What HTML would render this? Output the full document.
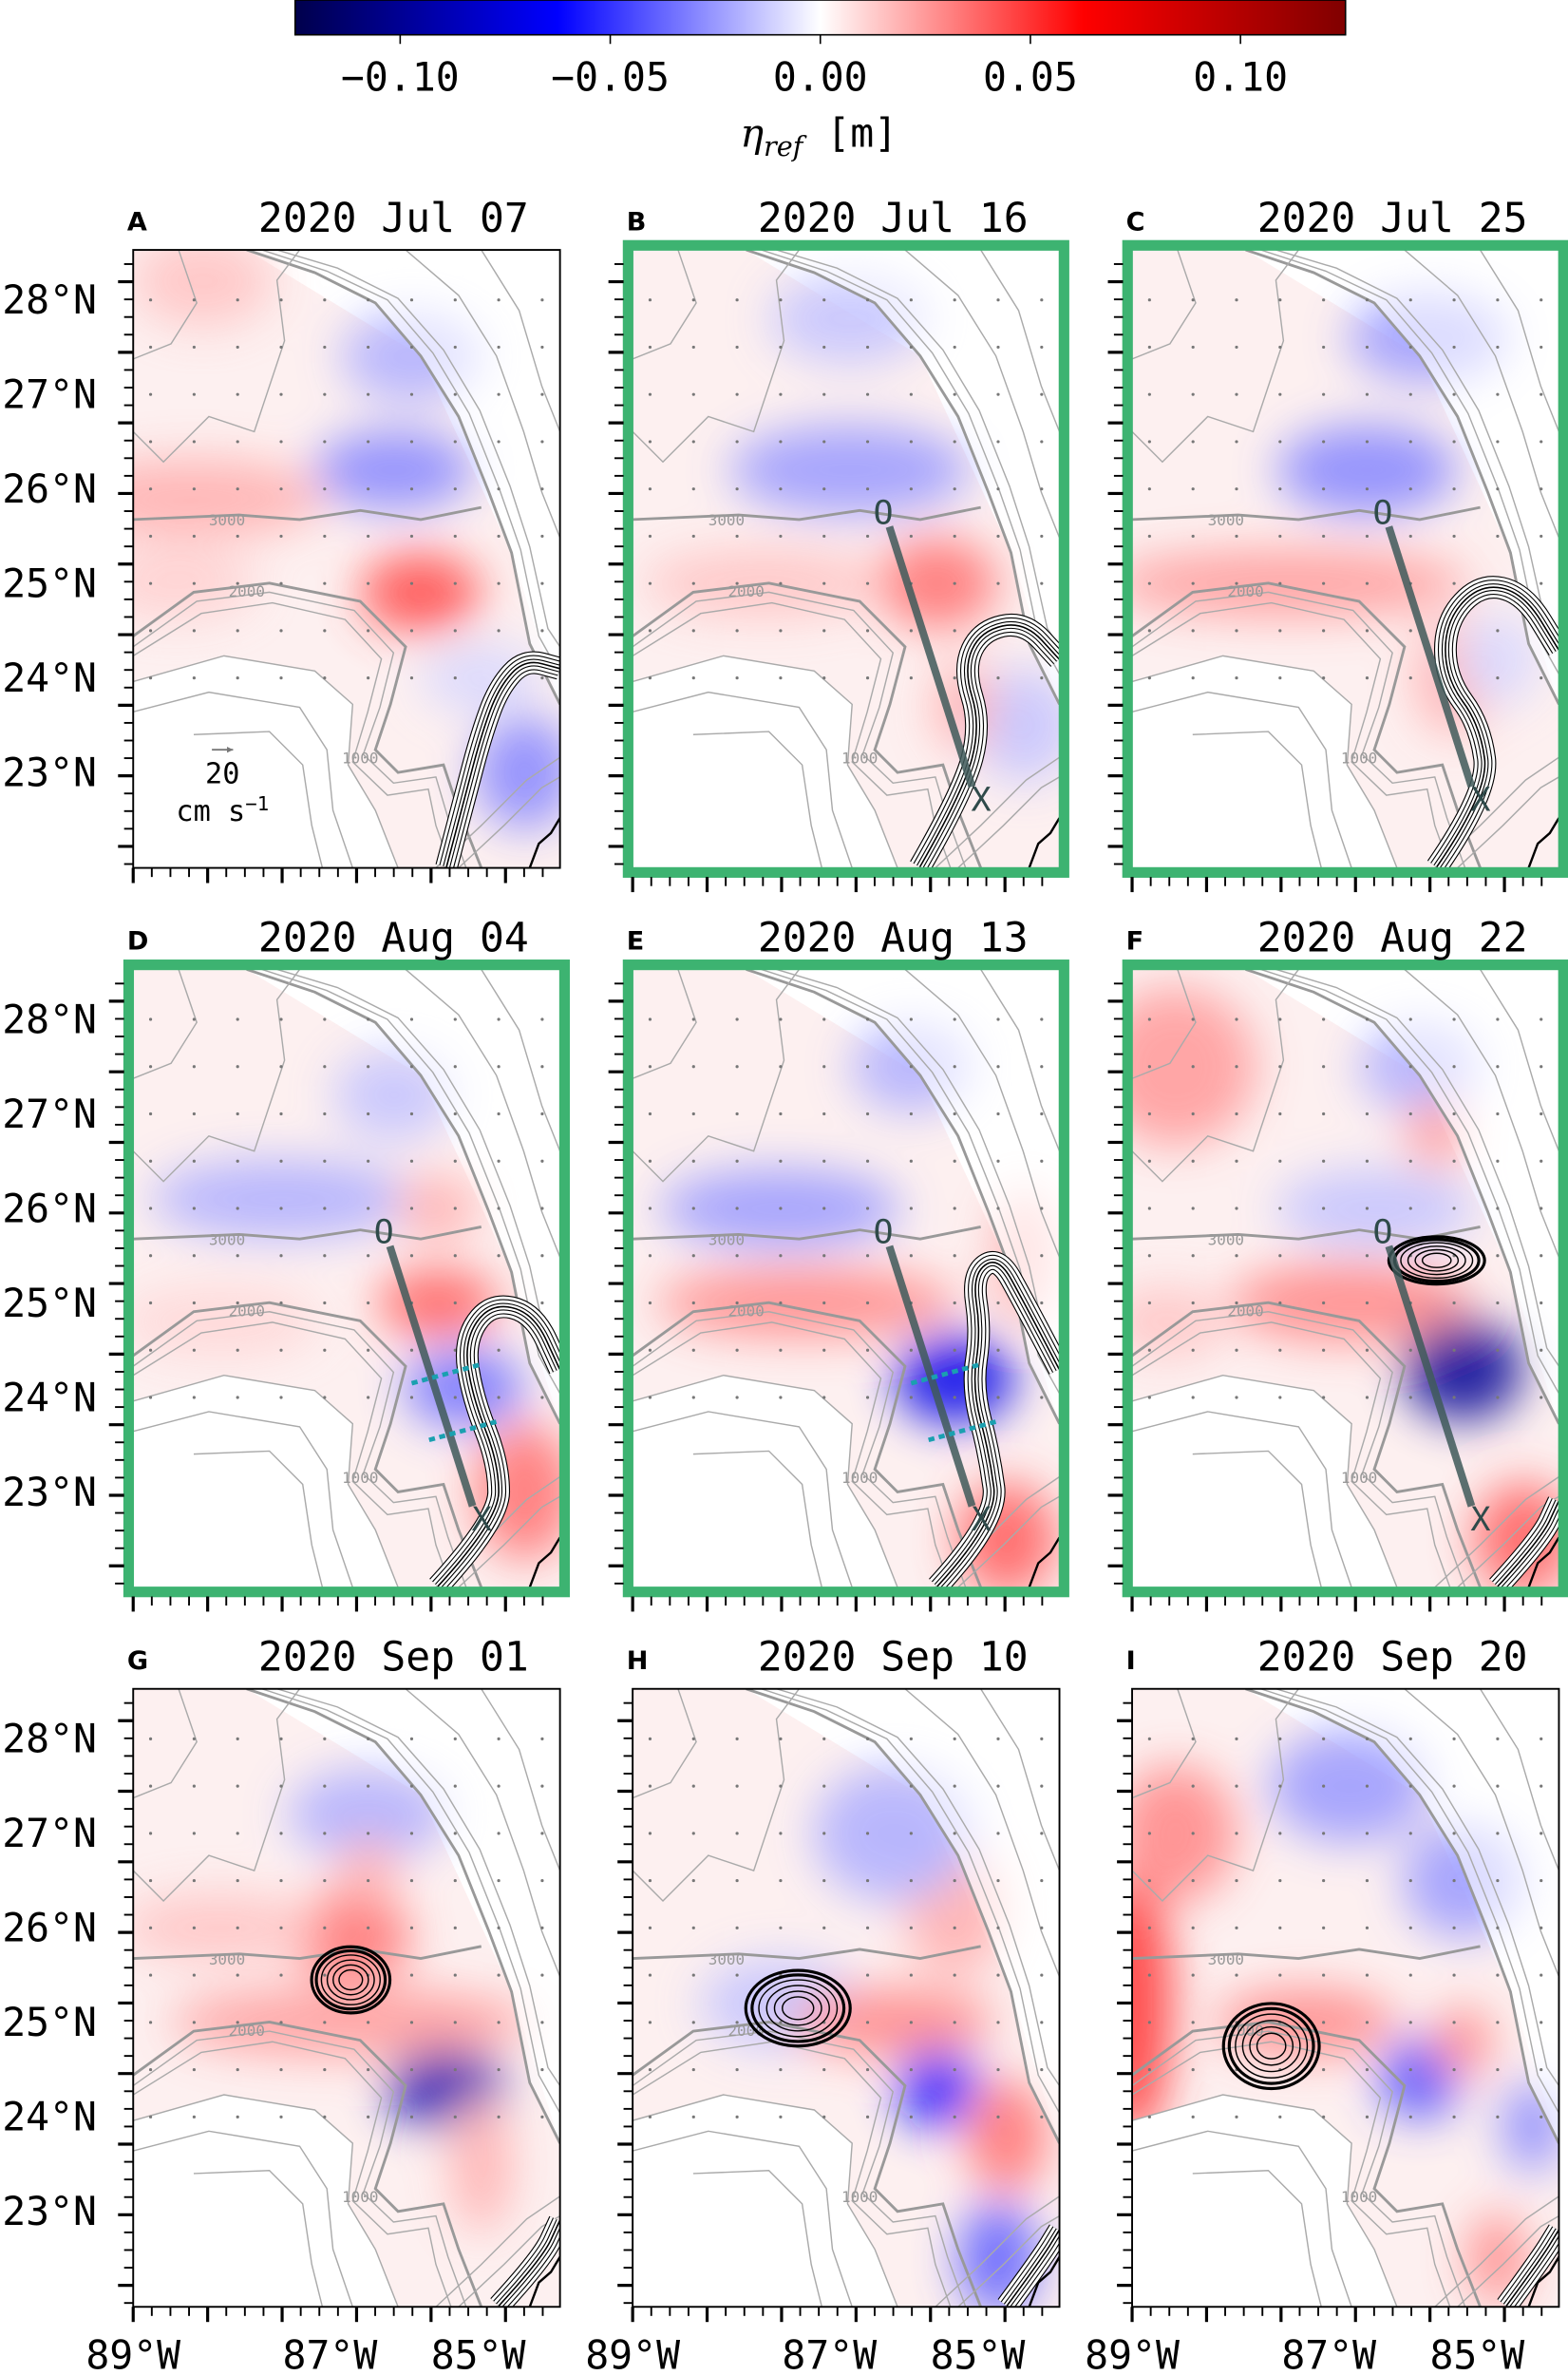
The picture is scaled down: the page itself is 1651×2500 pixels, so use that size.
<!DOCTYPE html>
<html><head><meta charset="utf-8"><style>
html,body{margin:0;padding:0;background:#fff}
svg{display:block}
text{font-family:"DejaVu Sans Mono","Liberation Mono",monospace;fill:#000}
</style></head><body>
<svg id="fig" width="1651" height="2500" viewBox="0 0 1036 1568" preserveAspectRatio="none" xmlns="http://www.w3.org/2000/svg">
<defs>
<linearGradient id="cbgrad" x1="0" x2="1" y1="0" y2="0">
<stop offset="0" stop-color="#00004c"/><stop offset="0.25" stop-color="#0000ff"/><stop offset="0.5" stop-color="#ffffff"/><stop offset="0.75" stop-color="#ff0000"/><stop offset="1" stop-color="#800000"/>
</linearGradient>
<filter id="blur" x="-50%" y="-50%" width="200%" height="200%"><feGaussianBlur stdDeviation="15"/></filter>
</defs>
<g>
<rect x="195" y="0" width="694" height="23" fill="url(#cbgrad)" stroke="#000" stroke-width="1"/>
<g id="cbticks"></g>
<text x="541" y="97" font-size="26" text-anchor="middle"><tspan font-family="DejaVu Serif, serif" font-style="italic">η</tspan><tspan font-family="DejaVu Serif, serif" font-style="italic" font-size="18" dy="6">ref</tspan><tspan dy="-6"> [m]</tspan></text>
</g>
<g id="panels"></g>
</svg>
<script>
const cbTicks=[-0.10,-0.05,0.00,0.05,0.10];
const cbLabels=["−0.10","−0.05","0.00","0.05","0.10"];
const panelLetters=["A","B","C","D","E","F","G","H","I"];
const panelDates=["2020 Jul 07","2020 Jul 16","2020 Jul 25","2020 Aug 04","2020 Aug 13","2020 Aug 22","2020 Sep 01","2020 Sep 10","2020 Sep 20"];
const highlighted=[false,true,true,true,true,true,false,false,false];
const latTicks=[28,27,26,25,24,23];
const lonTickLabels=["89°W","87°W","85°W"];
// anomaly blobs per panel: [lon, lat, eta(m), radius lon deg, radius lat deg]
const blobsA=[[88.3,25.9,0.02,1.3,0.35],[86.0,26.2,-0.03,0.8,0.35],[85.8,27.4,-0.02,0.7,0.4],[85.7,24.9,0.045,0.6,0.35],[84.5,23.0,-0.03,0.5,0.5],[88.5,25.0,0.012,0.8,0.3],[88.2,28.2,0.015,0.7,0.4],[85.0,24.0,-0.01,0.6,0.3]];
const blobsB=[[86.5,26.2,-0.025,1.2,0.4],[86.5,27.8,-0.015,0.8,0.4],[85.5,25.0,0.035,0.6,0.4],[87.5,25.0,0.015,1.2,0.3],[84.5,23.5,-0.015,0.5,0.5],[85.2,23.7,0.02,0.3,0.4]];
const blobsC=[[86.3,26.2,-0.03,0.9,0.4],[85.6,27.6,-0.025,0.8,0.4],[87.2,25.0,0.025,1.8,0.3],[85.3,24.0,0.02,0.4,0.5],[84.8,24.2,-0.01,0.4,0.4]];
const blobsD=[[87.3,26.1,-0.02,1.3,0.35],[86.0,27.2,-0.015,0.6,0.4],[85.5,25.0,0.04,0.6,0.3],[85.5,26.0,0.02,0.4,0.3],[85.2,24.1,-0.035,0.6,0.35],[84.5,23.0,0.035,0.5,0.6],[88.0,24.8,0.01,1.0,0.3]];
const blobsE=[[87.3,26.0,-0.025,1.2,0.35],[85.8,27.5,-0.02,0.6,0.4],[87.0,25.0,0.03,1.5,0.3],[85.3,24.2,-0.07,0.6,0.4],[84.7,22.5,0.04,0.5,0.5],[84.5,25.5,0.02,0.3,0.6]];
const blobsF=[[88.5,27.5,0.025,0.8,0.7],[86.5,25.0,0.03,1.2,0.35],[85.2,24.3,-0.1,0.6,0.45],[86.2,26.0,-0.015,1.0,0.35],[85.7,27.5,-0.02,0.6,0.4],[84.5,22.5,0.04,0.5,0.5],[85.5,26.8,0.025,0.3,0.3],[88.6,24.8,0.015,0.6,0.3]];
const blobsG=[[86.5,25.9,0.035,0.6,0.4],[86.5,25.0,0.025,1.8,0.3],[85.4,24.3,-0.09,0.6,0.35],[86.3,27.2,-0.02,0.8,0.4],[86.3,26.6,0.02,0.3,0.3],[85.0,23.5,0.02,0.3,0.6],[88.0,26.0,0.015,1.0,0.3]];
const blobsH=[[87.3,25.2,-0.015,0.8,0.4],[86.0,25.0,0.03,1.0,0.3],[85.3,26.2,0.02,0.5,0.6],[85.5,24.3,-0.06,0.4,0.35],[84.7,23.8,0.035,0.4,0.5],[84.8,22.5,-0.04,0.4,0.5],[86.0,27.0,-0.02,0.8,0.6]];
const blobsI=[[89.0,25.2,0.05,0.4,1.2],[88.5,27.0,0.03,0.6,0.6],[86.5,27.5,-0.025,0.8,0.5],[85.2,26.5,-0.025,0.6,0.5],[87.0,25.0,0.03,0.9,0.3],[85.7,24.4,-0.045,0.4,0.35],[85.2,24.8,0.03,0.3,0.3],[84.4,23.9,-0.03,0.3,0.4],[84.8,22.5,0.03,0.3,0.4]];
const panelBlobs=[blobsA,blobsB,blobsC,blobsD,blobsE,blobsF,blobsG,blobsH,blobsI];
// loop current / eddy contour centre lines (lon, lat)
const currentA=[[85.4,22.0],[85.2,22.7],[85.0,23.4],[84.8,23.9],[84.5,24.2],[84.1,24.1]];
const currentB=[[85.7,22.0],[85.2,22.8],[85.0,23.5],[85.2,24.1],[85.0,24.5],[84.5,24.6],[84.1,24.2]];
const currentC=[[85.5,22.0],[84.9,22.8],[85.0,23.5],[85.4,24.0],[85.4,24.6],[85.0,25.0],[84.5,24.9],[84.1,24.3]];
const currentD=[[85.5,22.0],[84.8,22.7],[84.8,23.3],[85.1,24.0],[85.2,24.6],[84.9,25.0],[84.4,24.9],[84.1,24.3]];
const currentE=[[85.5,22.0],[84.8,22.7],[84.9,23.4],[85.1,24.1],[85.0,24.7],[85.1,25.3],[84.8,25.5],[84.5,25.0],[84.1,24.3]];
const currentF=[[84.8,22.0],[84.3,22.5],[84.1,22.9]];
const currentG=[[84.8,22.0],[84.3,22.5],[84.1,22.9]];
const currentH=[[84.7,22.0],[84.3,22.5],[84.1,22.8]];
const currentI=[[84.7,22.0],[84.3,22.5],[84.1,22.8]];
const panelCurrents=[currentA,currentB,currentC,currentD,currentE,currentF,currentG,currentH,currentI];
// eddy centres [lon, lat, rx deg, ry deg] or null
const panelEddies=[null,null,null,null,null,[85.5,25.45,0.55,0.25],[86.5,25.45,0.45,0.35],[87.1,25.15,0.6,0.4],[87.4,24.75,0.55,0.45]];
const sectionO=[86.05,25.6];
const sectionX=[85.1,22.85];
const showSection=[false,true,true,true,true,true,false,false,false];

const NS="http://www.w3.org/2000/svg";
const colX0=[88,418,748], rowY0=[165,640,1115], PW=282, PH=408;
function mk(tag,attrs,parent){const e=document.createElementNS(NS,tag);for(const k in attrs)e.setAttribute(k,attrs[k]);if(parent)parent.appendChild(e);return e;}
function cbX(v){return 195+(v+0.125)/0.25*694;}
function seismic(v){let t=Math.max(0,Math.min(1,(v+0.125)/0.25));const s=[[0,0,0.3],[0,0,1],[1,1,1],[1,0,0],[0.5,0,0]];const i=Math.min(3,Math.floor(t*4));const f=t*4-i;const c=s[i].map((a,k)=>Math.round(255*(a+(s[i+1][k]-a)*f)));return `rgb(${c[0]},${c[1]},${c[2]})`;}
function smooth(pts){let d=`M${pts[0][0]},${pts[0][1]}`;for(let i=1;i<pts.length-1;i++){const mx=(pts[i][0]+pts[i+1][0])/2,my=(pts[i][1]+pts[i+1][1])/2;d+=` Q${pts[i][0]},${pts[i][1]} ${mx},${my}`;}const l=pts[pts.length-1];d+=` L${l[0]},${l[1]}`;return d;}

const cbt=document.getElementById('cbticks');
cbTicks.forEach((v,i)=>{
  const l=mk('line',{x1:cbX(v),x2:cbX(v),y1:23,y2:29,stroke:'#000','stroke-width':1},cbt);
  
  
  const t=mk('text',{x:cbX(v),y:60,'font-size':26,'text-anchor':'middle'},cbt);
  t.textContent=cbLabels[i];
  
  
});

const bathy=[
 "M75,0 L120,15 L160,35 L190,70 L215,110 L235,160 L250,200 L262,260 L282,300",
 "M85,0 L128,14 L168,33 L198,68 L222,108 L242,158 L256,198 L268,255 L282,280",
 "M95,0 L135,12 L175,32 L205,66 L229,106 L249,156 L262,196 L274,250 L282,262",
 "M180,0 L215,30 L240,70 L258,120 L270,160 L282,190",
 "M230,0 L255,40 L270,90 L282,120",
 "M0,255 L40,226 L90,220 L150,232 L180,262 L170,300 L160,330 L175,345 L205,340 L215,370 L230,408",
 "M0,262 L42,232 L90,226 L146,238 L172,266 L163,302 L152,333 L172,352 L200,348 L208,375 L220,408",
 "M0,268 L45,240 L92,233 L140,244 L164,270 L155,305 L145,338 L168,360 L195,356 L200,380 L210,408",
 "M0,285 L60,268 L120,278 L145,300 L142,340 L160,370 L175,408",
 "M0,305 L50,292 L110,302 L128,330 L132,370 L145,408",
 "M40,320 L90,318 L112,340 L118,380 L125,408",
 "M0,178 L70,175 L110,178 L150,172 L190,178 L230,170",
 "M30,0 L42,35 L25,62 L0,72",
 "M0,120 L20,140 L50,110 L80,120 L100,60 L95,20 L110,0",
 "M200,408 L230,380 L260,350 L282,335",
 "M215,408 L245,380 L270,355 L282,348"
];

const panelsG=document.getElementById('panels');
for(let p=0;p<9;p++){
  const x0=colX0[p%3], y0=rowY0[Math.floor(p/3)];
  const lx=lon=>x0+(89-lon)*57.5;
  const ly=lat=>y0+33+(28-lat)*62.4;
  const g=mk('g',{},panelsG);
  
  
  const cp=mk('clipPath',{id:'clip'+p},g);
  mk('rect',{x:x0,y:y0,width:PW,height:PH},cp);
  const inner=mk('g',{'clip-path':`url(#clip${p})`},g);
  mk('path',{d:`M${x0},${y0} L${x0+75},${y0} L${x0+190},${y0+70} L${x0+250},${y0+200} L${x0+282},${y0+300} L${x0+282},${y0+408} L${x0+175},${y0+408} L${x0+142},${y0+340} L${x0+120},${y0+278} L${x0},${y0+285} Z`,fill:'#fdf0f0'},inner);
  const field=mk('g',{filter:'url(#blur)',opacity:0.85},inner);
  
  
  panelBlobs[p].forEach(b=>{
    const e=mk('ellipse',{cx:lx(b[0]),cy:ly(b[1]),rx:b[3]*57.5*1.15,ry:b[4]*62.4*1.2,fill:seismic(b[2])},field);
    
    
  });
  mk('path',{d:`M${x0},${y0+285} L${x0+60},${y0+268} L${x0+120},${y0+278} L${x0+145},${y0+300} L${x0+142},${y0+340} L${x0+160},${y0+370} L${x0+175},${y0+408} L${x0},${y0+408} Z`,fill:'#fff'},inner);
  mk('path',{d:`M${x0+75},${y0} L${x0+120},${y0+15} L${x0+160},${y0+35} L${x0+190},${y0+70} L${x0+215},${y0+110} L${x0+235},${y0+160} L${x0+250},${y0+200} L${x0+262},${y0+260} L${x0+282},${y0+300} L${x0+282},${y0} Z`,fill:'#fff',opacity:0.6},inner);
  const bg=mk('g',{transform:`translate(${x0},${y0})`,fill:'none',stroke:'#999','stroke-width':1},inner);
  
  
  bathy.forEach((d,i)=>mk('path',{d:d,'stroke-width':(i===0||i===5||i===11)?1.8:0.9,stroke:(i===0||i===5||i===11)?'#999':'#aaa'},bg));
  [["3000",62,178],["2000",75,225],["1000",150,335]].forEach(a=>{const t=mk('text',{x:x0+a[1],y:y0+a[2]+4,'font-size':10,'text-anchor':'middle'},inner);t.textContent=a[0];t.style.fill='#999';});
  mk('path',{d:`M${x0+262},${y0+408} L${x0+268},${y0+392} L${x0+276},${y0+385} L${x0+282},${y0+375}`,fill:'none',stroke:'#000','stroke-width':1.5},inner);
  const vg=mk('g',{fill:'#777'},inner);
  
  
  for(let la=28;la>=24;la-=0.5)for(let lo=88.8;lo>=84.2;lo-=0.5){mk('circle',{cx:lx(lo),cy:ly(la),r:1},vg);}
  const cur=panelCurrents[p];
  const lcg=mk('g',{fill:'none','stroke-linejoin':'round','stroke-linecap':'butt'},inner);
  
  
  const cd=smooth(cur.map(c=>[lx(c[0]),ly(c[1])]));
  [[15,'#000'],[13.6,'#fff'],[10,'#000'],[8.6,'#fff'],[5,'#000'],[3.6,'#fff'],[1,'#000']].forEach(s=>mk('path',{d:cd,stroke:s[1],'stroke-width':s[0]},lcg));
  const ed=panelEddies[p];
  if(ed){
    const eg=mk('g',{fill:'none',stroke:'#000'},inner);
    
    
    [1,0.88,0.75,0.6,0.45,0.3].forEach((s,k)=>mk('ellipse',{cx:lx(ed[0]),cy:ly(ed[1]),rx:ed[2]*57.5*s,ry:ed[3]*62.4*s,'stroke-width':k<2?2:0.9},eg));
  }
  if(showSection[p]){
    const sg=mk('g',{},inner);
    
    
    mk('line',{x1:lx(sectionO[0]),y1:ly(sectionO[1]),x2:lx(sectionX[0]),y2:ly(sectionX[1]),stroke:'#3f5a5a','stroke-width':5,opacity:0.85},sg);
    const o=mk('text',{x:lx(sectionO[0])-4,y:ly(sectionO[1])-2,'font-size':22,'text-anchor':'middle'},sg);o.textContent='O';o.style.fill='#2f4a4a';
    const x=mk('text',{x:lx(sectionX[0])+6,y:ly(sectionX[1])+16,'font-size':22,'text-anchor':'middle'},sg);x.textContent='X';x.style.fill='#2f4a4a';
    if(p===3||p===4){
      const cyg=mk('g',{stroke:'#1aa0b0','stroke-width':3,'stroke-dasharray':'4,3'},sg);
      mk('line',{x1:lx(85.8),y1:ly(24.15),x2:lx(85.0),y2:ly(24.35)},cyg);
      mk('line',{x1:lx(85.6),y1:ly(23.55),x2:lx(84.8),y2:ly(23.75)},cyg);
    }
  }
  if(p===0){
    const qg=mk('g',{},g);
    
    
    mk('line',{x1:x0+52,y1:y0+330,x2:x0+66,y2:y0+330,stroke:'#777','stroke-width':1.2},qg);
    mk('path',{d:`M${x0+66},${y0+330} l-4,-2 l0,4 z`,fill:'#777'},qg);
    const a=mk('text',{x:x0+59,y:y0+352,'font-size':19,'text-anchor':'middle'},qg);a.textContent='20';
    const b=mk('text',{x:x0+59,y:y0+377,'font-size':19,'text-anchor':'middle'},qg);b.innerHTML='cm s<tspan dy="-7" font-size="13">−1</tspan>';
  }
  if(highlighted[p]){
    const f=mk('rect',{x:x0-3,y:y0-3,width:PW+6,height:PH+6,fill:'none',stroke:'#3db371','stroke-width':7},g);
    
    
  } else {
    mk('rect',{x:x0,y:y0,width:PW,height:PH,fill:'none',stroke:'#000','stroke-width':1.2},g);
  }
  const tg=mk('g',{stroke:'#000'},g);
  
  
  const lo=highlighted[p]?6:0;
  for(let k=0;k<9*4;k++){const y=y0+21+k*11.65-2*11.65;if(y<y0+2||y>y0+PH-2)continue;const maj=(k%4===2);mk('line',{x1:x0-lo-(maj?10:6),x2:x0-lo,y1:y,y2:y,'stroke-width':maj?2:1.2},tg);}
  for(let k=0;k<=22;k++){const x=x0+k*12.3;if(x>x0+PW)continue;const maj=(k%4===0);mk('line',{x1:x,x2:x,y1:y0+PH+lo,y2:y0+PH+lo+(maj?10:6),'stroke-width':maj?2:1.2},tg);}
  if(p%3===0){
    latTicks.forEach(la=>{const t=mk('text',{x:x0-24,y:ly(la)+9,'font-size':26,'text-anchor':'end'},g);t.textContent=la+'°N';
      
      });
  }
  if(p>=6){
    [0,130,228].forEach((dx,i)=>{const t=mk('text',{x:x0+dx,y:1564,'font-size':26,'text-anchor':'middle'},g);t.textContent=lonTickLabels[i];
      
      });
  }
  const L=mk('text',{x:x0-4,y:y0-13,'font-size':17,'font-weight':'bold'},g);L.textContent=panelLetters[p];L.style.fontFamily='"DejaVu Sans",sans-serif';
  
  
  const T=mk('text',{x:x0+172,y:y0-12,'font-size':27,'text-anchor':'middle'},g);T.textContent=panelDates[p];
  
  
}
</script>
</body></html>
